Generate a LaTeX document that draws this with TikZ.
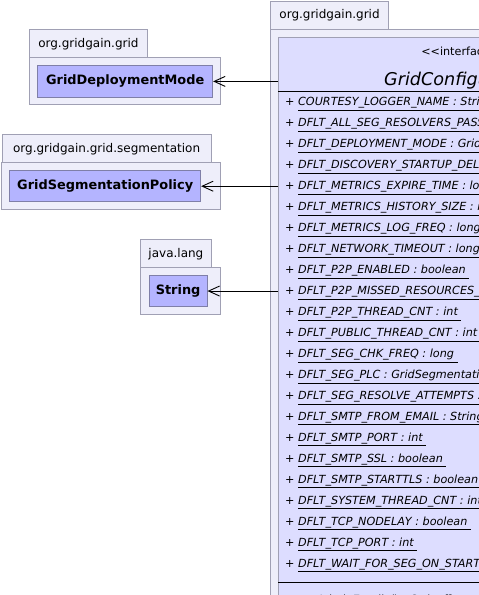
\documentclass[tikz,border=0pt]{standalone}
\usepackage{fontspec}
\setmainfont{DejaVu Sans}
\usetikzlibrary{arrows.meta}
\definecolor{pkgfill}{HTML}{EEEEFA}
\definecolor{pkgline}{HTML}{A0A0B4}
\definecolor{clsfill}{HTML}{B4B4FF}
\definecolor{clsline}{HTML}{7F7FA8}
\definecolor{ifcfill}{HTML}{DDDDFF}
\def\ul#1{\underline{#1}}

\begin{document}
\begin{tikzpicture}[x=1pt,y=-1pt,
  pkgtab/.style={draw=pkgline, fill=pkgfill, line width=0.8pt, anchor=north west,
    inner sep=0pt, minimum height=28pt, font=\fontsize{12pt}{14pt}\selectfont},
  pkgbody/.style={draw=pkgline, fill=pkgfill, line width=0.8pt},
  cls/.style={draw=clsline, fill=clsfill, line width=0.8pt, anchor=north west,
    inner sep=0pt, font=\fontsize{12.9pt}{14pt}\selectfont\bfseries},
  ifc/.style={draw=pkgline, fill=ifcfill, line width=0.8pt, anchor=north west, inner sep=0pt},
  attr/.style={anchor=west, inner sep=0pt, font=\fontsize{11.2pt}{13pt}\selectfont\itshape},
  dep/.style={line width=0.8pt, -{Straight Barb[length=11pt,width=10pt,line width=0.9pt]}}]
  \useasboundingbox (0,0) rectangle (479,595);
  \clip (0,0) rectangle (479,595);
  % packages on the left
  \draw[pkgbody] (29.3,57.3) rectangle (220,104.3);
  \node[pkgtab, minimum width=117.4pt] (grid) at (29.3,29.3) {org.gridgain.grid};
  \node[cls, minimum width=175pt, minimum height=31.4pt] (mode) at (37.3,65.3) {GridDeploymentMode};
  \draw[pkgbody] (1.7,162.3) rectangle (220,209);
  \node[pkgtab, minimum width=209pt] (segpkg) at (1.7,134.3) {org.gridgain.grid.segmentation};
  \node[cls, minimum width=191pt, minimum height=31pt] (plc) at (9.3,170.3) {GridSegmentationPolicy};
  \draw[pkgbody] (140.3,267) rectangle (220,314.3);
  \node[pkgtab, minimum width=70.4pt] (lang) at (140.3,239.3) {java.lang};
  \node[cls, minimum width=58pt, minimum height=30.7pt] (str) at (148.7,275.3) {String};
  % the interface
  \draw[pkgbody] (270,29.3) rectangle (700,700);
  \node[pkgtab, minimum width=118.3pt, minimum height=28.3pt] (main) at (270,1) {org.gridgain.grid};
  \node[ifc, minimum width=380pt, minimum height=600pt] (cfg) at (278,36.7) {};
  \node[anchor=base, inner sep=0pt, font=\fontsize{11.2pt}{13pt}\selectfont] (stereo) at (465,55) {{<}{<}interface{>}{>}};
  \node[anchor=base, inner sep=0pt, font=\fontsize{17.6pt}{19pt}\selectfont\itshape] (title) at (462.5,85.7) {GridConfiguration};
  \draw[line width=0.9pt] (278,91.7) -- (658,91.7);
  \foreach \txt [count=\i from 0] in {COURTESY\_LOGGER\_NAME : String,
      DFLT\_ALL\_SEG\_RESOLVERS\_PASS\_REQ : boolean,
      DFLT\_DEPLOYMENT\_MODE : GridDeploymentMode,
      DFLT\_DISCOVERY\_STARTUP\_DELAY : long,
      DFLT\_METRICS\_EXPIRE\_TIME : long,
      DFLT\_METRICS\_HISTORY\_SIZE : int,
      DFLT\_METRICS\_LOG\_FREQ : long,
      DFLT\_NETWORK\_TIMEOUT : long,
      DFLT\_P2P\_ENABLED : boolean,
      DFLT\_P2P\_MISSED\_RESOURCES\_CACHE\_SIZE : int,
      DFLT\_P2P\_THREAD\_CNT : int,
      DFLT\_PUBLIC\_THREAD\_CNT : int,
      DFLT\_SEG\_CHK\_FREQ : long,
      DFLT\_SEG\_PLC : GridSegmentationPolicy,
      DFLT\_SEG\_RESOLVE\_ATTEMPTS : int,
      DFLT\_SMTP\_FROM\_EMAIL : String,
      DFLT\_SMTP\_PORT : int,
      DFLT\_SMTP\_SSL : boolean,
      DFLT\_SMTP\_STARTTLS : boolean,
      DFLT\_SYSTEM\_THREAD\_CNT : int,
      DFLT\_TCP\_NODELAY : boolean,
      DFLT\_TCP\_PORT : int,
      DFLT\_WAIT\_FOR\_SEG\_ON\_START : boolean}{
    \node[attr] (a\i) at (285,104+\i*20.98) {+ \ul{\txt\ }};
  }
  \draw[line width=0.9pt] (278,582.5) -- (658,582.5);
  \node[attr] (op0) at (285,600.5) {+ getAdminEmails() : String[]};
  % dependencies
  \draw[dep] (cfg.west |- mode.east) -- (mode.east);
  \draw[dep] (cfg.west |- plc.east) -- (plc.east);
  \draw[dep] (cfg.west |- str.east) -- (str.east);
\end{tikzpicture}
\end{document}
